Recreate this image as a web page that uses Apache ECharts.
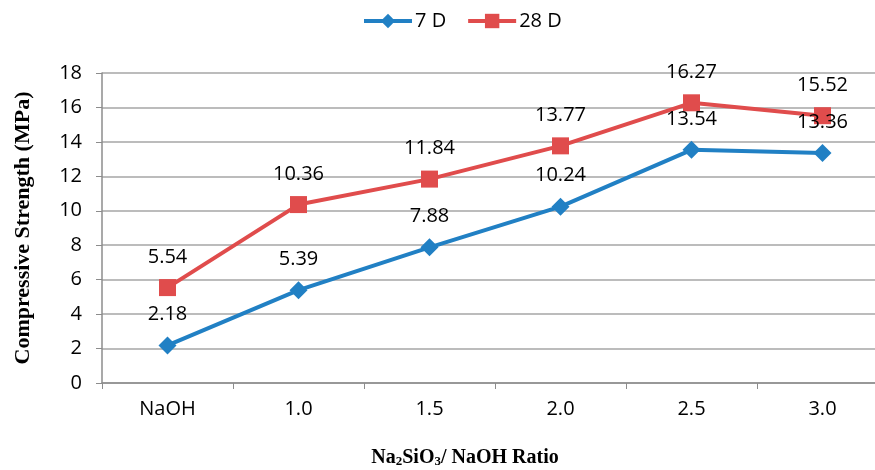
<!DOCTYPE html>
<html><head><meta charset="utf-8">
<script src="https://cdn.jsdelivr.net/npm/echarts@6/dist/echarts.min.js"></script>
<style>html,body{margin:0;padding:0;background:#fff}#c{width:875px;height:470px}</style>
</head><body><div id="c"></div>
<script>
var categories = ['NaOH', '1.0', '1.5', '2.0', '2.5', '3.0'];
var d7 = [2.18, 5.39, 7.88, 10.24, 13.54, 13.36];
var d28 = [5.54, 10.36, 11.84, 13.77, 16.27, 15.52];
var yTicks = [0, 2, 4, 6, 8, 10, 12, 14, 16, 18];

var chart = echarts.init(document.getElementById('c'));
var font = 'Open Sans';
chart.setOption({
  animation: false,
  legend: {
    top: 6, left: 357, itemWidth: 48, itemHeight: 18, itemGap: 20,
    lineStyle: {width: 4},
    textStyle: {fontFamily: font, fontSize: 20, color: '#000', padding: [0, 0, 0, -2]},
    data: ['7 D', '28 D']
  },
  grid: {left: 102, top: 73, width: 786, height: 310, containLabel: false, outerBoundsMode: 'none'},
  xAxis: {
    type: 'category', data: categories, boundaryGap: true,
    axisLine: {lineStyle: {color: '#8c8c8c', width: 1.5}},
    axisTick: {show: true, length: 6, lineStyle: {color: '#8c8c8c'}},
    axisLabel: {fontFamily: font, fontSize: 20, color: '#000', margin: 16},
    name: '{b|Na}{s|2}{b|SiO}{s|3}{b|/ NaOH Ratio}', nameLocation: 'middle', nameGap: 64,
    nameTextStyle: {
      padding: [0, 60, 0, 0],
      rich: {
        b: {fontFamily: 'Liberation Serif', fontWeight: 'bold', fontSize: 20, color: '#000'},
        s: {fontFamily: 'Liberation Serif', fontWeight: 'bold', fontSize: 13, color: '#000', padding: [8, 0, 0, 0]}
      }
    }
  },
  yAxis: {
    type: 'value', min: 0, max: 18, interval: 2,
    axisLine: {show: true, lineStyle: {color: '#8c8c8c', width: 1.5}},
    axisTick: {show: true, length: 6, lineStyle: {color: '#8c8c8c'}},
    splitLine: {lineStyle: {color: '#a6a6a6', width: 1.5}},
    axisLabel: {fontFamily: font, fontSize: 20, color: '#000', margin: 20,
      formatter: function (v) { return yTicks.indexOf(v) >= 0 ? String(v) : ''; }},
    name: 'Compressive Strength (MPa)', nameLocation: 'middle', nameGap: 68,
    nameTextStyle: {fontFamily: 'Liberation Serif', fontWeight: 'bold', fontSize: 22, color: '#000'}
  },
  series: [
    {
      name: '7 D', type: 'line', data: d7, symbol: 'diamond', symbolSize: 18,
      itemStyle: {color: '#2180c4'}, lineStyle: {color: '#2180c4', width: 4},
      label: {show: true, position: 'top', distance: 12, fontFamily: font, fontSize: 20, color: '#000',
        formatter: function (p) { return p.value.toFixed(2); }}
    },
    {
      name: '28 D', type: 'line', data: d28, symbol: 'rect', symbolSize: 17,
      itemStyle: {color: '#e04c4c'}, lineStyle: {color: '#e04c4c', width: 4},
      label: {show: true, position: 'top', distance: 12, fontFamily: font, fontSize: 20, color: '#000',
        formatter: function (p) { return p.value.toFixed(2); }}
    }
  ]
});
</script></body></html>
